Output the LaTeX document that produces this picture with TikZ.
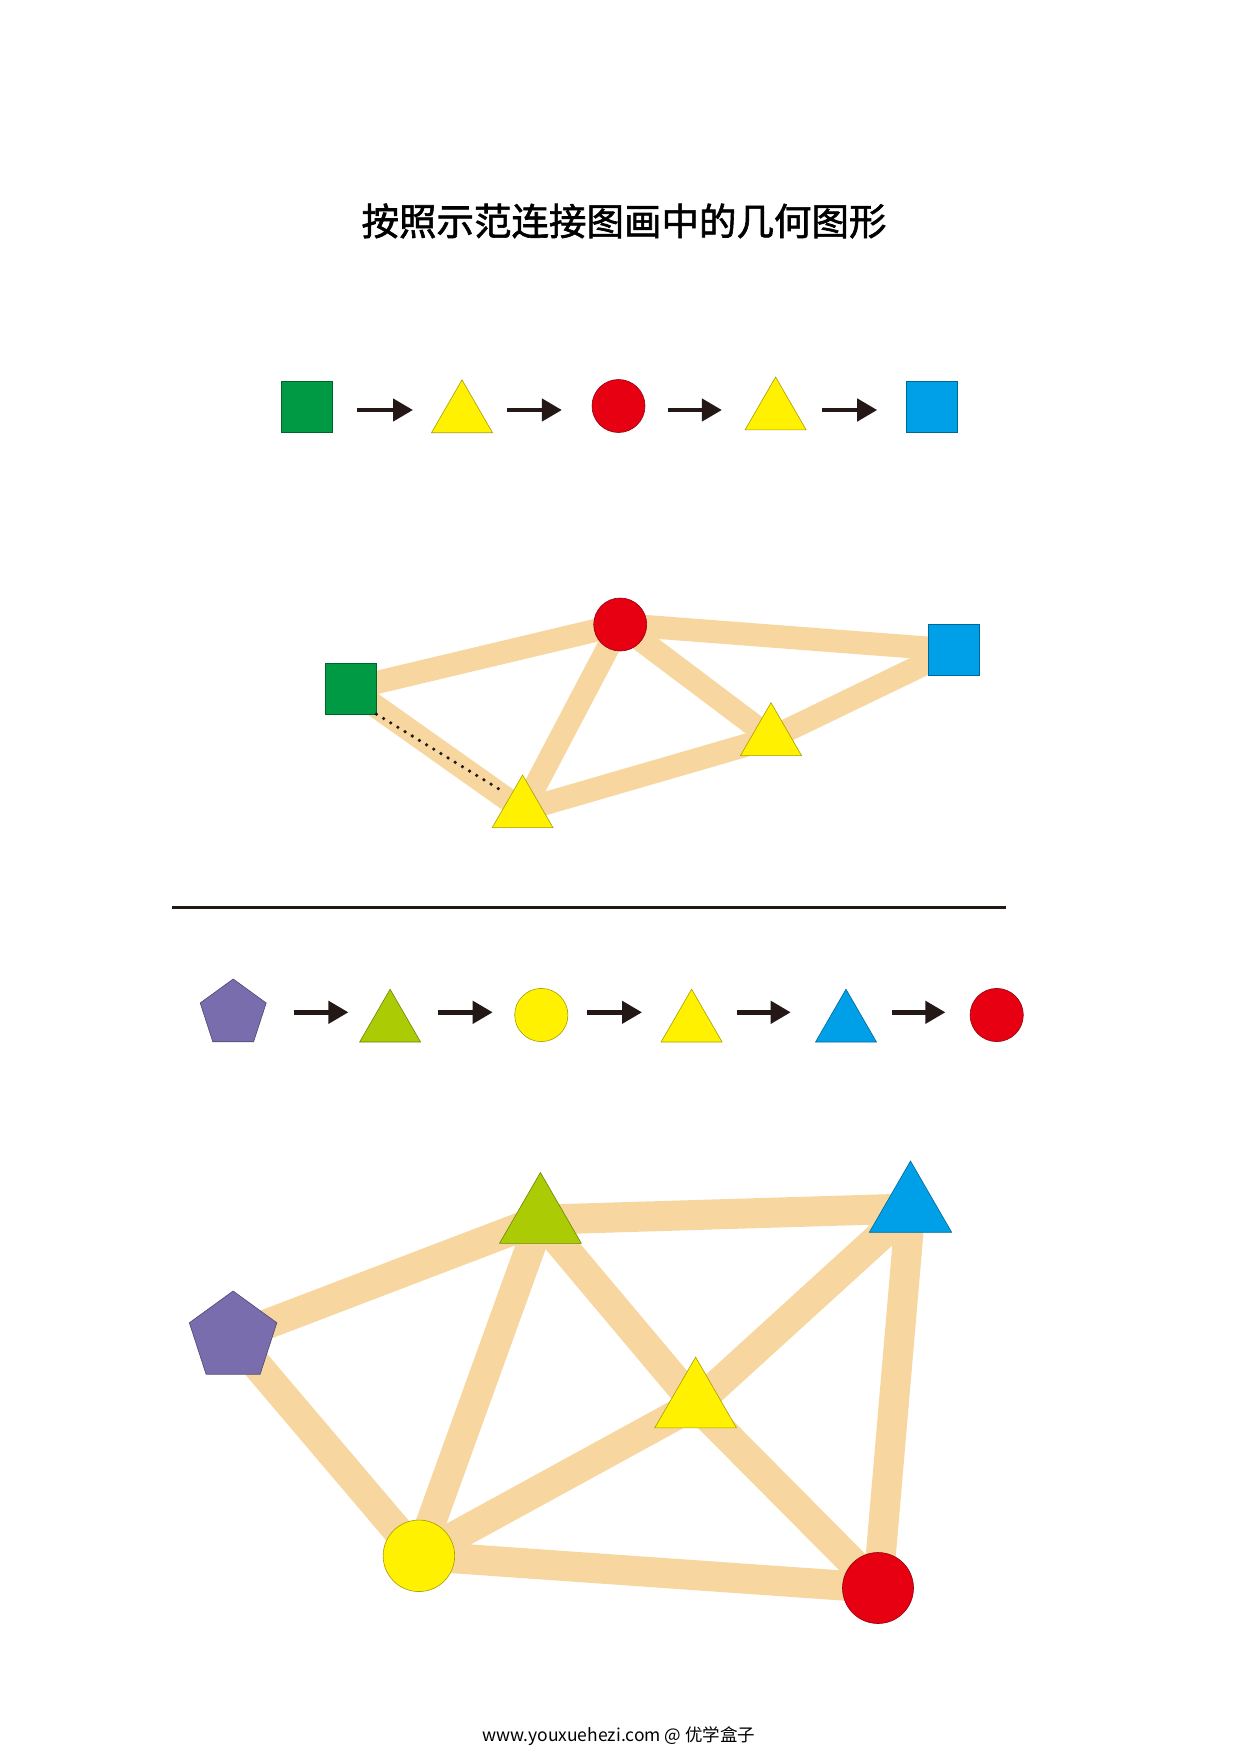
\documentclass[tikz,border=0pt]{standalone}
\usepackage{fontspec}
\newfontfamily\cjk{Noto Sans CJK SC}
\newfontfamily\cjktitle{Noto Sans CJK SC}[FakeBold=1.6]
\usetikzlibrary{shapes.geometric,arrows.meta,backgrounds}

\definecolor{sqgreen}{HTML}{009A44}
\definecolor{ylw}{HTML}{FFF100}
\definecolor{rd}{HTML}{E60012}
\definecolor{bl}{HTML}{00A0E9}
\definecolor{lime}{HTML}{ABCB05}
\definecolor{purp}{HTML}{7A6DAD}
\definecolor{bandtan}{HTML}{F7D6A0}
\definecolor{inkblack}{HTML}{231815}

\begin{document}
\begin{tikzpicture}[x=1pt,y=-1pt,
    fig/.style={inner sep=0pt, outer sep=0pt, line width=0.6pt, fill=#1, draw=#1!65!black},
    sq/.style={fig=#1, rectangle, minimum size=51pt},
    disc/.style={fig=#1, circle},
    tri/.style={fig=#1, regular polygon, regular polygon sides=3},
    penta/.style={fig=#1, regular polygon, regular polygon sides=5},
    seqarrow/.style={draw=inkblack, line width=4.5pt, -{Triangle[length=20pt,width=22pt]}},
    band/.style={draw=bandtan, line width=#1}]

    \useasboundingbox (0,0) rectangle (1239,1753);

    % title
    \node (title) at (624,221) {\cjktitle\fontsize{37.5}{40}\selectfont 按照示范连接图画中的几何图形};

    % first sequence
    \coordinate (row1) at (0,410);
    \node[sq=sqgreen] (g0) at (306.5,407.2) {};
    \node[tri=ylw, minimum size=70.4pt] (t0) at (462,415.1) {};
    \node[disc=rd, minimum size=53pt] (c0) at (618.5,406) {};
    \node[tri=ylw, minimum size=70.4pt] (t1) at (775.6,412.2) {};
    \node[sq=bl] (b0) at (931.5,407.2) {};

    \foreach \a/\b/\s/\e in {g0/t0/50.9/49, t0/c0/45.2/56.6, c0/t1/49.1/53.7, t1/b0/46.4/54.3}
        \draw[seqarrow, shorten <=\s pt, shorten >=\e pt] (\a |- row1) -- (\b |- row1);

    % first example graph
    \node[sq=sqgreen] (g1) at (350.9,688.6) {};
    \node[disc=rd, minimum size=53pt] (c1) at (620.2,624.5) {};
    \node[sq=bl] (b1) at (953.3,650) {};
    \node[tri=ylw, minimum size=70.6pt] (t2) at (771,738) {};
    \node[tri=ylw, minimum size=70.2pt] (t3) at (522.6,810.1) {};
    \coordinate (dotend) at (503.3,791.7);

    \begin{scope}[on background layer]
        \path[band=23pt]
            (g1.center) edge (c1.center)
            (g1.center) edge (t3.center)
            (c1.center) edge (t3.center)
            (c1.center) edge (t2.center)
            (c1.center) edge (b1.center)
            (b1.center) edge (t2.center)
            (t2.center) edge (t3.center)
        ;
    \end{scope}
    \draw[inkblack, line width=3.6pt, line cap=round, dash pattern=on 0pt off 8.4pt]
        (g1.south east) -- (dotend);

    % separator
    \draw[inkblack, line width=3pt] (172.2,907) -- (1006.4,907);

    % second sequence
    \coordinate (row2) at (0,1012.3);
    \node[penta=purp, minimum size=69.4pt] (p0) at (233.2,1013.7) {};
    \node[tri=lime, minimum size=70.4pt] (t4) at (390.1,1024.4) {};
    \node[disc=ylw, minimum size=53.2pt] (c2) at (541.3,1015) {};
    \node[tri=ylw, minimum size=70.4pt] (t5) at (691.6,1024.4) {};
    \node[tri=bl, minimum size=70.4pt] (t6) at (846,1024.4) {};
    \node[disc=rd, minimum size=53.2pt] (c3) at (996.7,1015) {};

    \foreach \a/\b/\s/\e in {p0/t4/60.4/41.7, t4/c2/47.8/48.6, c2/t5/45.8/49.6, t5/t6/45.3/55.3, t6/c3/45.6/51.3}
        \draw[seqarrow, shorten <=\s pt, shorten >=\e pt] (\a |- row2) -- (\b |- row2);

    % second graph
    \node[penta=purp, minimum size=92pt] (p1) at (233.1,1337) {};
    \node[tri=lime, minimum size=94.4pt] (t7) at (540.4,1219.7) {};
    \node[tri=bl, minimum size=95pt] (t8) at (910.5,1208.5) {};
    \node[tri=ylw, minimum size=94.4pt] (t9) at (695.6,1404.3) {};
    \node[disc=ylw, minimum size=71.5pt] (c4) at (418.9,1555.8) {};
    \node[disc=rd, minimum size=71pt] (c5) at (878,1588) {};

    \begin{scope}[on background layer]
        \path[band=30pt]
            (p1.center) edge (t7.center)
            (p1.center) edge (c4.center)
            (t7.center) edge (t8.center)
            (t7.center) edge (c4.center)
            (t7.center) edge (t9.center)
            (t8.center) edge (t9.center)
            (t8.center) edge (c5.center)
            (t9.center) edge (c4.center)
            (t9.center) edge (c5.center)
            (c4.center) edge (c5.center)
        ;
    \end{scope}

    % footer
    \node (foot) at (619,1736) {\cjk\fontsize{17.5}{19}\selectfont www.youxuehezi.com @ 优学盒子};
\end{tikzpicture}
\end{document}
